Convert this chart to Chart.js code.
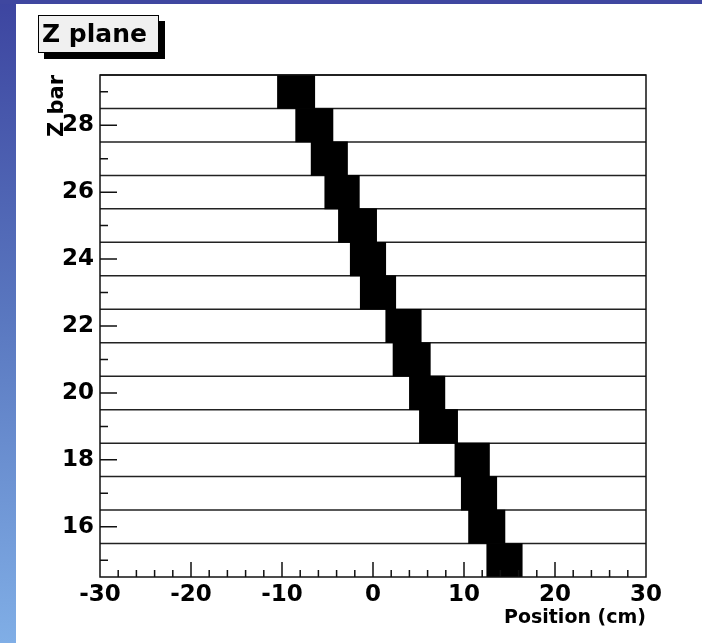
<!DOCTYPE html>
<html>
<head>
<meta charset="utf-8">
<script src="https://cdn.jsdelivr.net/npm/chart.js@4/dist/chart.umd.min.js"></script>
<style>
    body {
        margin: 0;
        width: 702px;
        height: 643px;
        overflow: hidden;
        background: linear-gradient(to bottom, #3d45a0 0%, #5a78c0 50%, #80aee6 100%);
    }
    #topband {
        position: absolute;
        left: 0; top: 0;
        width: 702px; height: 4px;
        background: #3f47a0;
    }
    #panel {
        position: absolute;
        left: 16px; top: 4px;
        width: 686px; height: 639px;
        background: #fff;
    }
</style>
</head>
<body>
<div id="topband"></div>
<div id="panel"><canvas id="zplane" width="686" height="639"></canvas></div>
<script>
// Z bar number and the hit position range (cm) of each box
const zBars = [29, 28, 27, 26, 25, 24, 23, 22, 21, 20, 19, 18, 17, 16, 15];
const xLow  = [-10.5, -8.5, -6.8, -5.3, -3.8, -2.5, -1.4, 1.4, 2.2, 4.0, 5.1, 9.0, 9.7, 10.5, 12.5];
const xHigh = [-6.4, -4.4, -2.8, -1.5, 0.4, 1.4, 2.5, 5.3, 6.3, 7.9, 9.3, 12.8, 13.6, 14.5, 16.4];

const xTickLabels = [-30, -20, -10, 0, 10, 20, 30];
const yTickLabels = [16, 18, 20, 22, 24, 26, 28];

const chartTitle = 'Z plane';
const yTitle = 'Z bar';
const xTitle = 'Position (cm)';

const xMin = -30, xMax = 30;
const yMin = 14.5, yMax = 29.5;

const boxes = zBars.map((z, i) => ({ y: z, x: [xLow[i], xHigh[i]] }));

const fontFamily = '"DejaVu Sans", Verdana, sans-serif';

// ROOT style: frame, inner tick marks, title box, y title
const rootStyle = {
    id: 'rootStyle',
    beforeDatasetsDraw(chart) {
        // bin edges between the Z bars
        const ctx = chart.ctx;
        const area = chart.chartArea;
        const ys = chart.scales.y;
        ctx.save();
        ctx.strokeStyle = '#222';
        ctx.lineWidth = 1.5;
        ctx.beginPath();
        zBars.forEach(z => {
            const py = ys.getPixelForValue(z + 0.5);
            ctx.moveTo(area.left, py);
            ctx.lineTo(area.right, py);
        });
        ctx.stroke();
        ctx.restore();
    },
    afterDraw(chart) {
        const ctx = chart.ctx;
        const area = chart.chartArea;
        const xs = chart.scales.x;
        const ys = chart.scales.y;

        ctx.save();
        ctx.strokeStyle = '#111';
        ctx.lineWidth = 1.5;
        ctx.strokeRect(area.left, area.top, area.right - area.left, area.bottom - area.top);

        ctx.beginPath();
        for (let v = xMin + 2; v < xMax; v += 2) {
            const px = xs.getPixelForValue(v);
            const len = xTickLabels.includes(v) ? 15 : 7;
            ctx.moveTo(px, area.bottom);
            ctx.lineTo(px, area.bottom - len);
        }
        for (let v = Math.ceil(yMin); v <= Math.floor(yMax); v++) {
            const py = ys.getPixelForValue(v);
            const len = yTickLabels.includes(v) ? 17 : 8;
            ctx.moveTo(area.left, py);
            ctx.lineTo(area.left + len, py);
        }
        ctx.stroke();

        // title box with shadow
        ctx.fillStyle = '#000';
        ctx.fillRect(28, 17, 121, 38);
        ctx.fillStyle = '#f0f0f0';
        ctx.fillRect(22, 11, 121, 38);
        ctx.strokeStyle = '#000';
        ctx.lineWidth = 1;
        ctx.strokeRect(22.5, 11.5, 120, 37);
        ctx.fillStyle = '#000';
        ctx.font = 'bold 25px ' + fontFamily;
        ctx.textAlign = 'left';
        ctx.textBaseline = 'alphabetic';
        ctx.fillText(chartTitle, 26, 38);

        // y axis title, rotated, ending at the frame top
        ctx.translate(area.left - 37, area.top);
        ctx.rotate(-Math.PI / 2);
        ctx.font = 'bold 21px ' + fontFamily;
        ctx.textAlign = 'right';
        ctx.textBaseline = 'alphabetic';
        ctx.fillText(yTitle, 0, 0);
        ctx.restore();
    }
};

const tickFont = { family: fontFamily, size: 23, weight: 'bold' };

new Chart(document.getElementById('zplane'), {
    type: 'bar',
    data: {
        datasets: [{
            data: boxes,
            backgroundColor: '#000',
            borderWidth: 0,
            barPercentage: 1.0,
            categoryPercentage: 1.0
        }]
    },
    options: {
        indexAxis: 'y',
        responsive: false,
        animation: false,
        layout: { padding: { top: 71, right: 56, left: 0, bottom: 0 } },
        plugins: { legend: { display: false }, tooltip: { enabled: false } },
        scales: {
            x: {
                type: 'linear',
                min: xMin,
                max: xMax,
                afterBuildTicks: (scale) => {
                    scale.ticks = xTickLabels.map(v => ({ value: v }));
                },
                afterFit: (scale) => { scale.height = 66; },
                grid: { display: false, drawTicks: false },
                border: { display: false },
                ticks: { color: '#000', font: tickFont, padding: 4, maxRotation: 0, autoSkip: false },
                title: {
                    display: true,
                    text: xTitle,
                    align: 'end',
                    color: '#000',
                    font: { family: fontFamily, size: 19, weight: 'bold' },
                    padding: { top: 0, bottom: 14 }
                }
            },
            y: {
                type: 'linear',
                min: yMin,
                max: yMax,
                offset: false,
                afterBuildTicks: (scale) => {
                    scale.ticks = zBars.map(v => ({ value: v }));
                },
                afterFit: (scale) => { scale.width = 84; },
                grid: { display: false, offset: false, drawTicks: false },
                border: { display: false },
                ticks: {
                    color: '#000',
                    font: tickFont,
                    padding: 6,
                    autoSkip: false,
                    callback: (v) => yTickLabels.includes(v) ? String(v) : ''
                }
            }
        }
    },
    plugins: [rootStyle]
});
</script>
</body>
</html>
